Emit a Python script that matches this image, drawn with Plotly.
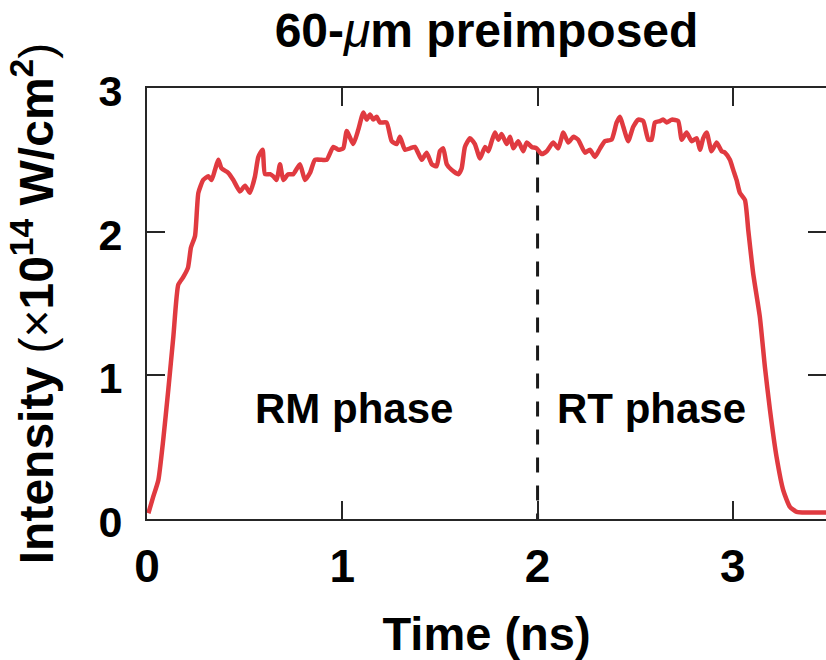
import numpy as np
import plotly.graph_objects as go

# ---- data ----
time_ns = [0.007, 0.032, 0.058, 0.083, 0.109, 0.135, 0.160, 0.184, 0.210, 0.225,
           0.246, 0.263, 0.288, 0.314, 0.331, 0.348, 0.365, 0.382, 0.416, 0.442,
           0.476, 0.502, 0.527, 0.553, 0.570, 0.592, 0.604, 0.630, 0.647, 0.664,
           0.681, 0.698, 0.723, 0.749, 0.783, 0.809, 0.835, 0.860, 0.895, 0.920,
           0.954, 0.980, 1.005, 1.023, 1.056, 1.082, 1.108, 1.125, 1.142, 1.159,
           1.176, 1.193, 1.227, 1.253, 1.279, 1.295, 1.321, 1.347, 1.372, 1.407,
           1.432, 1.458, 1.483, 1.500, 1.517, 1.535, 1.560, 1.594, 1.611, 1.628,
           1.654, 1.679, 1.705, 1.731, 1.748, 1.765, 1.782, 1.799, 1.816, 1.842,
           1.859, 1.876, 1.901, 1.927, 1.944, 1.970, 1.995, 2.021, 2.047, 2.080,
           2.106, 2.132, 2.157, 2.183, 2.208, 2.243, 2.268, 2.294, 2.320, 2.345,
           2.379, 2.405, 2.422, 2.439, 2.464, 2.490, 2.516, 2.541, 2.567, 2.584,
           2.601, 2.627, 2.644, 2.661, 2.687, 2.720, 2.738, 2.763, 2.789, 2.815,
           2.832, 2.848, 2.866, 2.891, 2.917, 2.943, 2.960, 2.985, 3.002, 3.019,
           3.036, 3.062, 3.079, 3.104, 3.138, 3.164, 3.190, 3.224, 3.258, 3.292,
           3.327, 3.378, 3.477]
intensity = [0.04, 0.155, 0.27, 0.55, 0.90, 1.27, 1.63, 1.68, 1.75, 1.89,
             1.97, 2.27, 2.36, 2.385, 2.36, 2.43, 2.50, 2.44, 2.41, 2.36,
             2.28, 2.32, 2.27, 2.385, 2.52, 2.57, 2.40, 2.40, 2.385, 2.36,
             2.47, 2.36, 2.40, 2.40, 2.47, 2.36, 2.41, 2.50, 2.50, 2.50,
             2.59, 2.57, 2.58, 2.70, 2.61, 2.71, 2.83, 2.78, 2.815, 2.78,
             2.80, 2.76, 2.76, 2.63, 2.61, 2.66, 2.57, 2.58, 2.59, 2.50,
             2.55, 2.47, 2.455, 2.56, 2.58, 2.47, 2.43, 2.40, 2.44, 2.59,
             2.65, 2.61, 2.51, 2.59, 2.56, 2.63, 2.69, 2.64, 2.68, 2.61,
             2.66, 2.58, 2.63, 2.56, 2.62, 2.59, 2.58, 2.54, 2.56, 2.62,
             2.58, 2.69, 2.62, 2.66, 2.64, 2.55, 2.57, 2.52, 2.58, 2.63,
             2.64, 2.76, 2.80, 2.73, 2.63, 2.73, 2.78, 2.77, 2.64, 2.64,
             2.76, 2.77, 2.78, 2.76, 2.78, 2.77, 2.64, 2.69, 2.63, 2.65,
             2.57, 2.65, 2.69, 2.56, 2.62, 2.56, 2.55, 2.50, 2.43, 2.36,
             2.27, 2.22, 2.01, 1.71, 1.41, 1.06, 0.76, 0.43, 0.20, 0.085,
             0.05, 0.045, 0.045]
x_ticks = [0, 1, 2, 3]
y_ticks = [0, 1, 2, 3]
phase_split = 2.0
phase_labels = ["RM phase", "RT phase"]
phase_label_x = [1.06, 2.585]
phase_label_y = 0.77

FONT = "Liberation Sans, Arial, Helvetica, sans-serif"
AX = "#262626"
RED = "#E03A40"

split_top = float(np.interp(phase_split, time_ns, intensity))

fig = go.Figure()
fig.add_trace(go.Scatter(x=[phase_split, phase_split], y=[split_top, 0], mode="lines",
                         line=dict(color="#1a1a1a", width=3, dash="15px,13px"),
                         showlegend=False, hoverinfo="skip"))
fig.add_trace(go.Scatter(x=time_ns, y=intensity, mode="lines",
                         line=dict(color=RED, width=4.5, shape="spline", smoothing=0.5),
                         showlegend=False))
# invisible trace on right-side axis (for mirrored right ticks only)
fig.add_trace(go.Scatter(x=[0], y=[0], yaxis="y2", mode="markers",
                         marker=dict(opacity=0), showlegend=False, hoverinfo="skip"))

for txt, xx in zip(phase_labels, phase_label_x):
    fig.add_annotation(x=xx, y=phase_label_y, text=f"<b>{txt}</b>", showarrow=False,
                       font=dict(family=FONT, size=42, color="black"),
                       xanchor="center", yanchor="middle")

fig.update_layout(
    width=826, height=660,
    margin=dict(l=147, r=0, t=88, b=141, autoexpand=False),
    paper_bgcolor="white", plot_bgcolor="white",
    font=dict(family=FONT, color="black"),
    title=dict(text="<b>60-</b><i>μ</i><b>m preimposed</b>",
               x=0.5, xref="paper", xanchor="center",
               y=1 - 30 / 660, yref="container", yanchor="middle",
               font=dict(family=FONT, size=48, color="black")),
    xaxis=dict(range=[0, 3.477], tickvals=x_ticks,
               ticktext=[f"<b>{v}</b>" for v in x_ticks],
               ticks="inside", ticklen=18, tickwidth=2, tickcolor=AX,
               showline=True, linewidth=2, linecolor=AX, mirror="ticks",
               showgrid=False, zeroline=False,
               tickfont=dict(family=FONT, size=46, color="black"),
               ticklabelstandoff=6,
               title=dict(text="<b>Time (ns)</b>", standoff=26,
                          font=dict(family=FONT, size=47, color="black"))),
    yaxis=dict(range=[0, 3], tickvals=y_ticks,
               ticktext=[f"<b>{v}</b>" for v in y_ticks],
               ticks="inside", ticklen=18, tickwidth=2, tickcolor=AX,
               showline=True, linewidth=2, linecolor=AX, mirror=False,
               showgrid=False, zeroline=False,
               tickfont=dict(family=FONT, size=43, color="black"),
               ticklabelstandoff=14, ticklabelshift=3,
               title=dict(text="<b>Intensity </b>(×<b>10<sup>14</sup> W/cm<sup>2</sup></b>)",
                          standoff=30,
                          font=dict(family=FONT, size=48, color="black"))),
    yaxis2=dict(range=[0, 3], tickvals=y_ticks, overlaying="y", side="right",
                ticks="inside", ticklen=18, tickwidth=2, tickcolor=AX,
                showticklabels=False, showline=False, showgrid=False, zeroline=False),
)

fig.write_html("out.html")
